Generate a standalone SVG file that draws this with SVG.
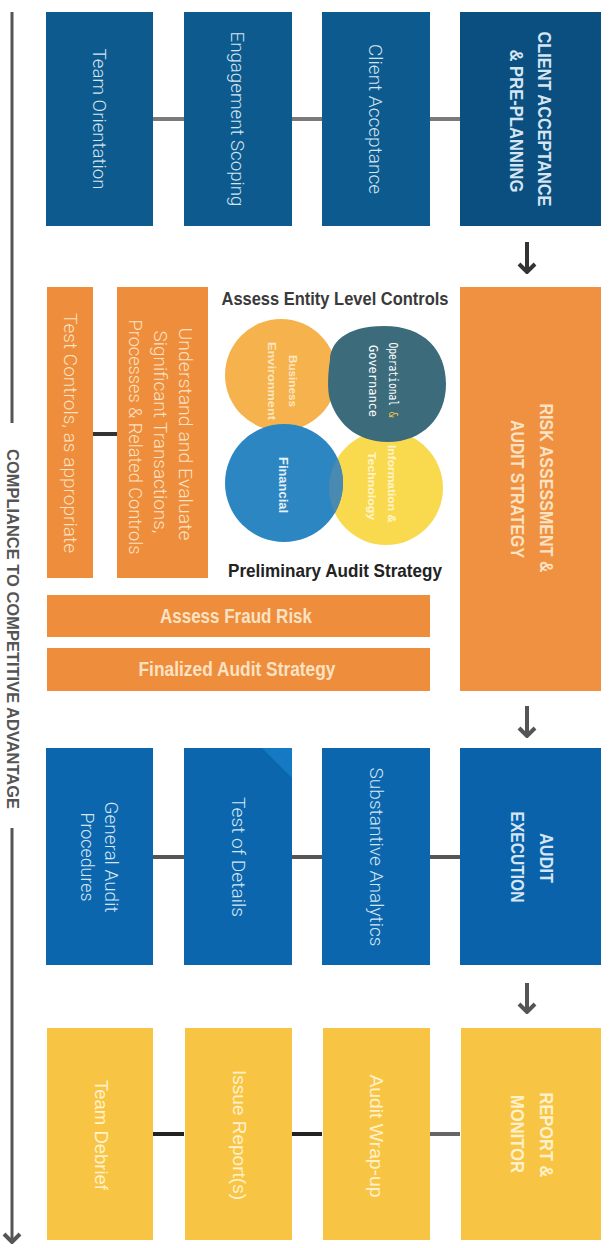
<svg xmlns="http://www.w3.org/2000/svg" width="612" height="1248" viewBox="0 0 612 1248">
  <defs>
    <marker id="chevDark" viewBox="0 0 20 20" refX="10" refY="18" markerWidth="20" markerHeight="20" markerUnits="userSpaceOnUse" orient="0">
      <path d="M2 10 L10 18 L18 10" fill="none" stroke="#333" stroke-width="4"/>
    </marker>
    <marker id="chevGray" viewBox="0 0 20 20" refX="10" refY="18" markerWidth="20" markerHeight="20" markerUnits="userSpaceOnUse" orient="0">
      <path d="M2 10 L10 18 L18 10" fill="none" stroke="#555" stroke-width="4"/>
    </marker>
    <clipPath id="yellowClip">
      <circle cx="386" cy="488" r="57"/>
    </clipPath>
  </defs>
  <style>
    .bg { fill: #ffffff; }
    .blue1 { fill: #0D5A8E; }
    .blue1h { fill: #0A4F80; }
    .blue3 { fill: #0B66AE; }
    .blue3h { fill: #0962AA; }
    .orange { fill: #EE8D3B; }
    .yellow { fill: #F8C443; }
    .lbl { font-family: Roboto, "Liberation Sans", sans-serif; font-weight: 300; font-size: 18px; text-anchor: middle; dominant-baseline: central; }
    .hdr { font-family: "Liberation Sans", Arial, sans-serif; font-weight: bold; font-size: 19px; text-anchor: middle; dominant-baseline: central; }
    .onblue { fill: #D5E5F2; }
    .onorange { fill: #FBE2C3; }
    .onyellow { fill: #FFF1CC; }
    .hz { font-family: "Liberation Sans", Arial, sans-serif; font-weight: bold; text-anchor: middle; }
    .circ { font-family: "Liberation Sans", Arial, sans-serif; font-weight: bold; font-size: 11px; text-anchor: middle; dominant-baseline: central; }
    .link { stroke-width: 4; fill: none; }
  </style>

  <rect class="bg" x="0" y="0" width="612" height="1248"/>

  <!-- side spine: compliance to competitive advantage -->
  <g id="spine">
    <line x1="12" y1="12" x2="12" y2="423" stroke="#555" stroke-width="3"/>
    <line x1="12" y1="828" x2="12" y2="1242" stroke="#555" stroke-width="3" marker-end="url(#chevGray)"/>
    <text transform="translate(12,629) rotate(90)" class="hdr" style="font-size:16px" fill="#555" textLength="360" lengthAdjust="spacingAndGlyphs">COMPLIANCE TO COMPETITIVE ADVANTAGE</text>
  </g>

  <!-- connectors -->
  <g id="connectors">
    <!-- row 1 -->
    <line class="link" stroke="#7a7a7a" x1="153" y1="119" x2="184" y2="119"/>
    <line class="link" stroke="#7a7a7a" x1="292" y1="119" x2="322" y2="119"/>
    <line class="link" stroke="#7a7a7a" x1="430" y1="119" x2="460" y2="119"/>
    <!-- row 2 -->
    <line class="link" stroke="#333" x1="93" y1="434" x2="117" y2="434"/>
    <!-- row 3 -->
    <line class="link" stroke="#555" x1="153" y1="857" x2="184" y2="857"/>
    <line class="link" stroke="#555" x1="292" y1="857" x2="322" y2="857"/>
    <line class="link" stroke="#555" x1="430" y1="857" x2="460" y2="857"/>
    <!-- row 4 -->
    <line class="link" stroke="#222" stroke-width="5" x1="153" y1="1134" x2="184" y2="1134"/>
    <line class="link" stroke="#222" stroke-width="5" x1="292" y1="1134" x2="322" y2="1134"/>
    <line class="link" stroke="#666" stroke-width="5" x1="430" y1="1134" x2="460" y2="1134"/>
    <!-- phase arrows -->
    <line x1="527" y1="242" x2="527" y2="272" stroke="#333" stroke-width="4" marker-end="url(#chevDark)"/>
    <line x1="527" y1="706" x2="527" y2="736" stroke="#555" stroke-width="4" marker-end="url(#chevGray)"/>
    <line x1="527" y1="983" x2="527" y2="1012" stroke="#555" stroke-width="4" marker-end="url(#chevGray)"/>
  </g>

  <!-- phase 1: client acceptance & pre-planning -->
  <g id="team-orientation">
    <rect class="blue1" x="46" y="12" width="107" height="214"/>
    <text class="lbl onblue" transform="translate(99,119) rotate(90)" textLength="141" lengthAdjust="spacingAndGlyphs">Team Orientation</text>
  </g>
  <g id="engagement-scoping">
    <rect class="blue1" x="184" y="12" width="108" height="214"/>
    <text class="lbl onblue" transform="translate(237,119) rotate(90)" textLength="175" lengthAdjust="spacingAndGlyphs">Engagement Scoping</text>
  </g>
  <g id="client-acceptance">
    <rect class="blue1" x="322" y="12" width="108" height="214"/>
    <text class="lbl onblue" transform="translate(375,119) rotate(90)" textLength="150" lengthAdjust="spacingAndGlyphs">Client Acceptance</text>
  </g>
  <g id="client-acceptance-pre-planning">
    <rect class="blue1h" x="460" y="12" width="141" height="214"/>
    <text class="hdr onblue" transform="translate(544,119) rotate(90)" textLength="175" lengthAdjust="spacingAndGlyphs">CLIENT ACCEPTANCE</text>
    <text class="hdr onblue" transform="translate(516,121) rotate(90)" textLength="143" lengthAdjust="spacingAndGlyphs">&amp; PRE-PLANNING</text>
  </g>

  <!-- phase 2: risk assessment & audit strategy -->
  <g id="risk-assessment-audit-strategy">
    <rect class="orange" x="460" y="287" width="141" height="404" style="fill:#EF9140"/>
    <text class="hdr onorange" transform="translate(546,488) rotate(90)" textLength="169" lengthAdjust="spacingAndGlyphs">RISK ASSESSMENT &amp;</text>
    <text class="hdr onorange" transform="translate(517,489) rotate(90)" textLength="138" lengthAdjust="spacingAndGlyphs">AUDIT STRATEGY</text>
  </g>
  <g id="test-controls">
    <rect class="orange" x="47" y="287" width="46" height="291"/>
    <text class="lbl onorange" transform="translate(70,433) rotate(90)" textLength="240" lengthAdjust="spacingAndGlyphs">Test Controls, as appropriate</text>
  </g>
  <g id="understand-evaluate">
    <rect class="orange" x="117" y="287" width="91" height="291"/>
    <text class="lbl onorange" transform="translate(185,434) rotate(90)" textLength="213" lengthAdjust="spacingAndGlyphs">Understand and Evaluate</text>
    <text class="lbl onorange" transform="translate(160,432) rotate(90)" textLength="203" lengthAdjust="spacingAndGlyphs">Significant Transactions,</text>
    <text class="lbl onorange" transform="translate(135,437) rotate(90)" textLength="235" lengthAdjust="spacingAndGlyphs">Processes &amp; Related Controls</text>
  </g>
  <g id="entity-level-controls">
    <text class="hz" x="335" y="305" font-size="19" fill="#3a3a3a" textLength="227" lengthAdjust="spacingAndGlyphs">Assess Entity Level Controls</text>
    <circle cx="281" cy="375" r="56" fill="#F6B24C"/>
    <circle cx="386" cy="488" r="57" fill="#F9DA4E"/>
    <circle cx="284" cy="483" r="59" fill="#2B86C2"/>
    <!-- blue/yellow overlap, slightly muted -->
    <circle cx="284" cy="483" r="59" fill="#4A89B0" clip-path="url(#yellowClip)"/>
    <path d="M330 360 C330 344 344 326 384 326 C424 326 446 350 446 384 C446 418 422 442 388 442 C354 442 336 420 330 400 C327 390 328 372 330 360 Z" fill="#3C6B7B"/>
    <text class="circ" fill="#FCE6C0" transform="translate(293,381) rotate(90)" textLength="52" lengthAdjust="spacingAndGlyphs">Business</text>
    <text class="circ" fill="#FCE6C0" transform="translate(272,381) rotate(90)" textLength="78" lengthAdjust="spacingAndGlyphs">Environment</text>
    <text class="circ" fill="#E6F0F8" style="font-size:12px" transform="translate(283,485) rotate(90)" textLength="56" lengthAdjust="spacingAndGlyphs">Financial</text>
    <text class="circ" fill="#FFF4CC" transform="translate(392,484) rotate(90)" textLength="78" lengthAdjust="spacingAndGlyphs">Information &amp;</text>
    <text class="circ" fill="#FFF4CC" transform="translate(372,486) rotate(90)" textLength="68" lengthAdjust="spacingAndGlyphs">Technology</text>
    <text transform="translate(393,380) rotate(90)" font-family="'DejaVu Sans Mono', 'Liberation Mono', monospace" font-size="12" text-anchor="middle" dominant-baseline="central" fill="#ffffff" textLength="75" lengthAdjust="spacingAndGlyphs">Operational <tspan fill="#F2C84B">&amp;</tspan></text>
    <text transform="translate(373,381) rotate(90)" font-family="'DejaVu Sans Mono', 'Liberation Mono', monospace" font-size="12" text-anchor="middle" dominant-baseline="central" fill="#ffffff" textLength="72" lengthAdjust="spacingAndGlyphs">Governance</text>
    <text class="hz" x="335" y="577" font-size="19" fill="#222" textLength="214" lengthAdjust="spacingAndGlyphs">Preliminary Audit Strategy</text>
  </g>
  <g id="assess-fraud-risk">
    <rect class="orange" x="47" y="595" width="383" height="42"/>
    <text class="hz onorange" x="236" y="623" font-size="20" textLength="152" lengthAdjust="spacingAndGlyphs">Assess Fraud Risk</text>
  </g>
  <g id="finalized-audit-strategy">
    <rect class="orange" x="47" y="648" width="383" height="43"/>
    <text class="hz onorange" x="237" y="676" font-size="20" textLength="197" lengthAdjust="spacingAndGlyphs">Finalized Audit Strategy</text>
  </g>

  <!-- phase 3: audit execution -->
  <g id="general-audit-procedures">
    <rect class="blue3" x="46" y="748" width="107" height="217"/>
    <text class="lbl onblue" transform="translate(111,857) rotate(90)" textLength="111" lengthAdjust="spacingAndGlyphs">General Audit</text>
    <text class="lbl onblue" transform="translate(87,857) rotate(90)" textLength="89" lengthAdjust="spacingAndGlyphs">Procedures</text>
  </g>
  <g id="test-of-details">
    <rect class="blue3" x="184" y="748" width="108" height="217"/>
    <path d="M262 748 H292 V778 Z" fill="#1679C4"/>
    <text class="lbl onblue" transform="translate(238,857) rotate(90)" textLength="120" lengthAdjust="spacingAndGlyphs">Test of Details</text>
  </g>
  <g id="substantive-analytics">
    <rect class="blue3" x="322" y="748" width="108" height="217"/>
    <text class="lbl onblue" transform="translate(376,857) rotate(90)" textLength="179" lengthAdjust="spacingAndGlyphs">Substantive Analytics</text>
  </g>
  <g id="audit-execution">
    <rect class="blue3h" x="460" y="748" width="141" height="217"/>
    <text class="hdr onblue" transform="translate(546,858) rotate(90)" textLength="50" lengthAdjust="spacingAndGlyphs">AUDIT</text>
    <text class="hdr onblue" transform="translate(517,857) rotate(90)" textLength="91" lengthAdjust="spacingAndGlyphs">EXECUTION</text>
  </g>

  <!-- phase 4: report & monitor -->
  <g id="team-debrief">
    <rect class="yellow" x="47" y="1028" width="106" height="212"/>
    <text class="hdr onyellow" style="font-size:18px;font-weight:normal" transform="translate(101,1135) rotate(90)" textLength="110" lengthAdjust="spacingAndGlyphs">Team Debrief</text>
  </g>
  <g id="issue-reports">
    <rect class="yellow" x="185" y="1028" width="107" height="212"/>
    <text class="hdr onyellow" style="font-size:18px;font-weight:normal" transform="translate(239,1135) rotate(90)" textLength="130" lengthAdjust="spacingAndGlyphs">Issue Report(s)</text>
  </g>
  <g id="audit-wrap-up">
    <rect class="yellow" x="323" y="1028" width="107" height="212"/>
    <text class="hdr onyellow" style="font-size:18px;font-weight:normal" transform="translate(376,1136) rotate(90)" textLength="123" lengthAdjust="spacingAndGlyphs">Audit Wrap-up</text>
  </g>
  <g id="report-monitor">
    <rect class="yellow" x="461" y="1028" width="140" height="212"/>
    <text class="hdr onyellow" transform="translate(546,1135) rotate(90)" textLength="85" lengthAdjust="spacingAndGlyphs">REPORT &amp;</text>
    <text class="hdr onyellow" transform="translate(517,1134) rotate(90)" textLength="78" lengthAdjust="spacingAndGlyphs">MONITOR</text>
  </g>
</svg>
